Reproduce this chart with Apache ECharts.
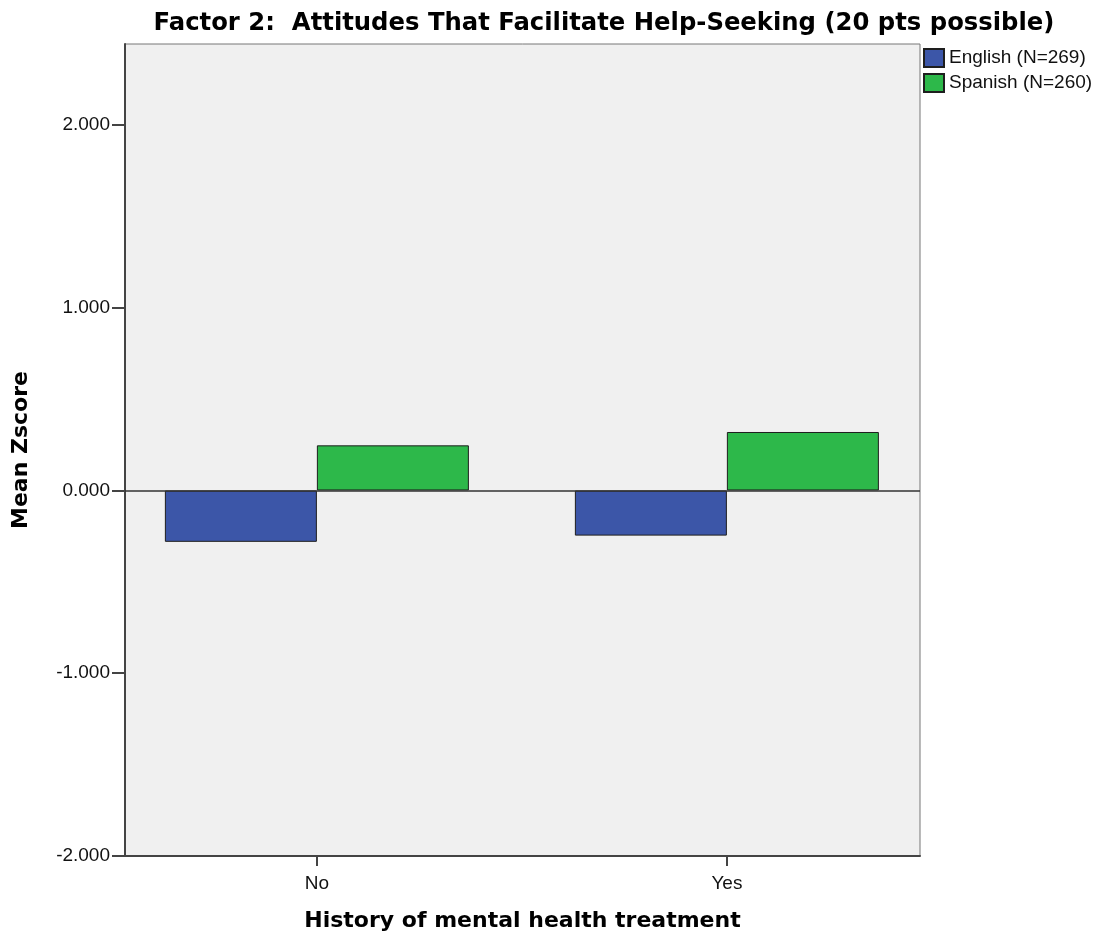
<!DOCTYPE html>
<html>
<head>
<meta charset="utf-8">
<script src="https://cdn.jsdelivr.net/npm/echarts@6/dist/echarts.min.js"></script>
<style>
  html, body { margin: 0; padding: 0; background: #fff; }
  #chart { width: 1102px; height: 943px; }
</style>
</head>
<body>
<div id="chart"></div>
<script>
// data
const categories = ['No', 'Yes'];
const englishMeans = [-0.281, -0.247];
const spanishMeans = [0.247, 0.320];
const yTicks = [-2, -1, 0, 1, 2];

const chart = echarts.init(document.getElementById('chart'));
const font = 'Liberation Sans, Arial, sans-serif';
const boldFont = 'DejaVu Sans, Verdana, sans-serif';

const barStyle = color => ({ color: color, borderColor: '#1e1e1e', borderWidth: 1 });

const option = {
    animation: false,
    title: {
        text: 'Factor 2:  Attitudes That Facilitate Help-Seeking (20 pts possible)',
        left: 599,
        textAlign: 'center',
        top: 7,
        textStyle: { fontFamily: boldFont, fontSize: 24.3, fontWeight: 'bold', color: '#000' }
    },
    legend: {
        orient: 'vertical',
        left: 923,
        top: 48,
        padding: 0,
        itemWidth: 20,
        itemHeight: 18,
        itemGap: 5,
        icon: 'rect',
        textStyle: { fontFamily: font, fontSize: 19, color: '#111' }
    },
    grid: {
        left: 125,
        top: 44,
        width: 795,
        height: 812,
        show: true,
        backgroundColor: '#f0f0f0',
        borderColor: '#777',
        borderWidth: 1
    },
    xAxis: {
        type: 'value',
        min: -0.468,
        max: 1.471,
        name: 'History of mental health treatment',
        nameLocation: 'middle',
        nameGap: 54,
        nameTextStyle: { fontFamily: boldFont, fontSize: 22, fontWeight: 'bold', color: '#000' },
        splitLine: { show: false },
        axisLine: { onZero: false, lineStyle: { color: '#444', width: 2 } },
        axisTick: { customValues: [0, 1], length: 10, lineStyle: { color: '#444', width: 2 } },
        axisLabel: {
            customValues: [0, 1],
            formatter: v => categories[Math.round(v)],
            margin: 18,
            fontFamily: font, fontSize: 19, color: '#111'
        }
    },
    yAxis: {
        type: 'value',
        min: -2,
        max: 2.443,
        name: 'Mean Zscore',
        nameLocation: 'middle',
        nameGap: 93,
        nameTextStyle: { fontFamily: boldFont, fontSize: 22, fontWeight: 'bold', color: '#000' },
        splitLine: { show: false },
        axisLine: { onZero: false, lineStyle: { color: '#444', width: 2 } },
        axisTick: { customValues: yTicks, length: 13, lineStyle: { color: '#444', width: 2 } },
        axisLabel: {
            customValues: yTicks,
            formatter: v => v.toFixed(3),
            margin: 15,
            fontFamily: font, fontSize: 19, color: '#111'
        }
    },
    series: [
        {
            name: 'English (N=269)',
            type: 'bar',
            barWidth: 152,
            barGap: '0%',
            itemStyle: barStyle('#3c56a8'),
            data: englishMeans.map((v, i) => [i, v]),
            markLine: {
                silent: true,
                symbol: 'none',
                label: { show: false },
                lineStyle: { color: '#333', width: 1.5, type: 'solid' },
                data: [{ yAxis: 0 }]
            }
        },
        {
            name: 'Spanish (N=260)',
            type: 'bar',
            barWidth: 152,
            barGap: '0%',
            itemStyle: barStyle('#2db84a'),
            data: spanishMeans.map((v, i) => [i, v])
        }
    ]
};

chart.setOption(option);
</script>
</body>
</html>
